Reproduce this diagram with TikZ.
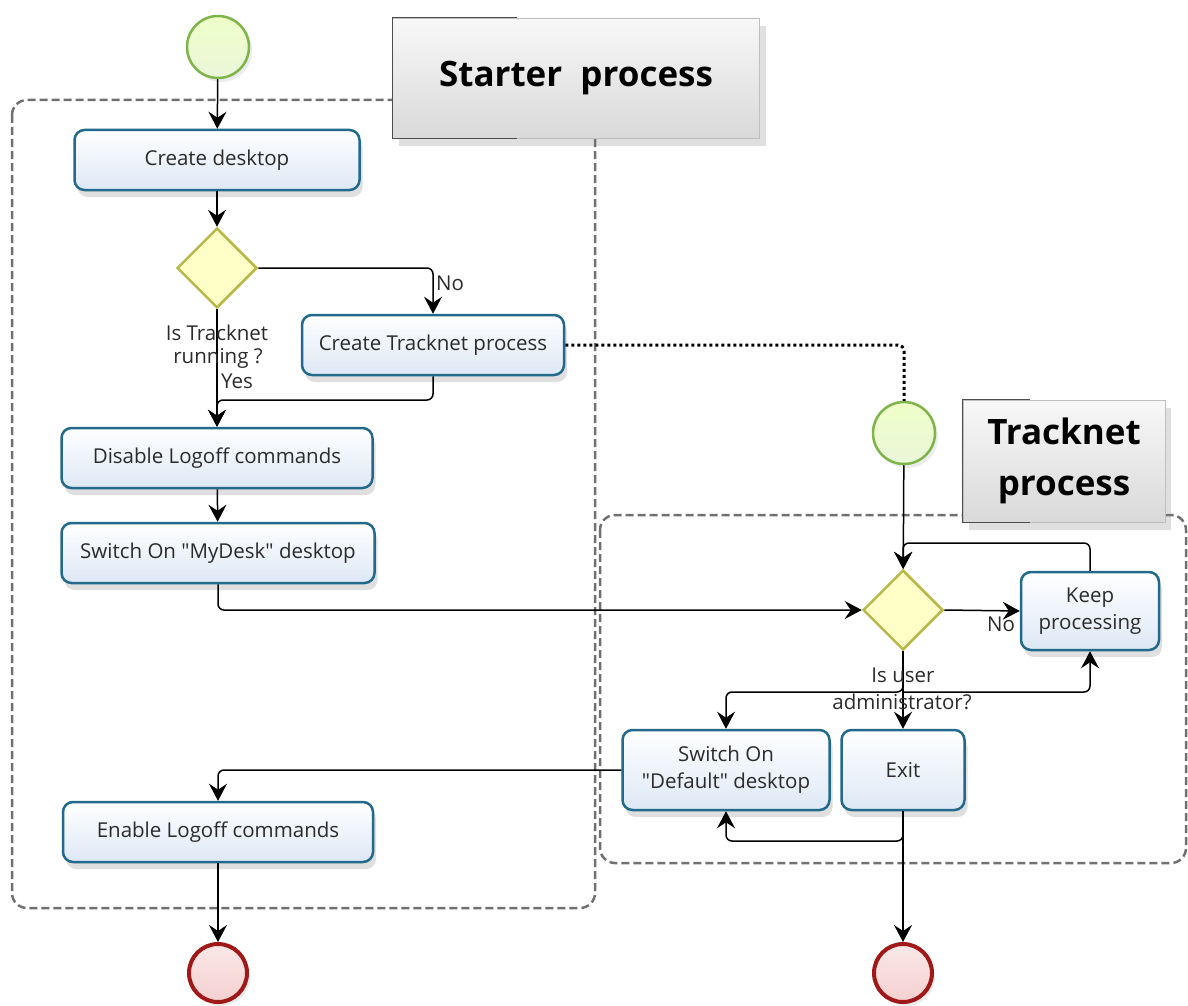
\documentclass[tikz,border=0pt]{standalone}
\usepackage{fontspec}
\setmainfont{Open Sans}
\usetikzlibrary{arrows.meta,shapes.geometric,shadows,calc}
\definecolor{boxborder}{HTML}{23698C}
\definecolor{boxbottom}{HTML}{DDE8F5}
\definecolor{diaborder}{HTML}{B9B94A}
\definecolor{diafill}{HTML}{FFFFC8}
\definecolor{startborder}{HTML}{7DB54A}
\definecolor{startfill}{HTML}{EEFFC8}
\definecolor{endborder}{HTML}{A01818}
\definecolor{endfill}{HTML}{F5D0D0}
\definecolor{groupline}{HTML}{707070}
\definecolor{labtop}{HTML}{F8F8F8}
\definecolor{labbottom}{HTML}{D9D9D9}
\definecolor{txt}{HTML}{2B2B2B}
\tikzset{
  taskbox/.style={draw=boxborder, line width=2.5pt, rounded corners=10pt,
    top color=white, bottom color=boxbottom, align=center, inner sep=0pt,
    text=txt, font=\fontsize{20.5}{27}\selectfont,
    drop shadow={shadow xshift=3pt, shadow yshift=-7pt, opacity=0.25}},
  decision/.style={diamond, draw=diaborder, line width=2.5pt, fill=diafill,
    minimum width=80pt, minimum height=80pt, inner sep=0pt},
  startev/.style={circle, draw=startborder, line width=2.5pt,
    top color=startfill, bottom color=startfill!70!startborder!40,
    minimum size=62pt, inner sep=0pt,
    drop shadow={shadow xshift=3pt, shadow yshift=-4pt, opacity=0.15}},
  endev/.style={circle, draw=endborder, line width=4pt,
    top color=endfill!50, bottom color=endfill,
    minimum size=58pt, inner sep=0pt,
    drop shadow={shadow xshift=3pt, shadow yshift=-4pt, opacity=0.15}},
  group/.style={draw=groupline, line width=2.5pt, dash pattern=on 8pt off 4pt, rounded corners=15pt},
  titlebox/.style={draw=black!25, line width=0.8pt, top color=labtop, bottom color=labbottom,
    inner sep=0pt, align=center, font=\bfseries\fontsize{35}{55}\selectfont, text=black,
    drop shadow={shadow xshift=6pt, shadow yshift=-8pt, opacity=0.25}},
  arr/.style={draw=black, line width=1.5pt, -{Stealth[length=17pt,width=18pt,inset=6pt]}},
  lab/.style={text=txt, font=\fontsize{20.5}{24}\selectfont, inner sep=0pt},
}
\begin{document}
\begin{tikzpicture}[x=1pt,y=-1pt]
\useasboundingbox (0,0) rectangle (1188,1006);
\fill[white] (0,0) rectangle (1188,1006);

% groups
\draw[group] (12,100) rectangle (595,908);
\draw[group] (600,515) rectangle (1186,863);

% title boxes
\node[titlebox, minimum width=367pt, minimum height=120pt] (t1) at (576,78) {Starter\ \ process};
\draw[black!70, line width=1.2pt] ($(t1.north west)+(125,0)$) -- (t1.north west) -- (t1.south west) -- ($(t1.south west)+(125,0)$);
\node[titlebox, minimum width=202pt, minimum height=122pt] (t2) at (1064,461) {Tracknet\\[-4pt]process};
\draw[black!70, line width=1.2pt] ($(t2.north west)+(67,0)$) -- (t2.north west) -- (t2.south west) -- ($(t2.south west)+(67,0)$);

% events
\node[startev] (s1) at (218,47) {};
\node[startev] (s2) at (904,433) {};
\node[endev] (e1) at (218,973) {};
\node[endev] (e2) at (903,973) {};

% tasks
\node[taskbox, minimum width=285pt, minimum height=60pt] (create) at (217,160) {Create desktop};
\node[taskbox, minimum width=262pt, minimum height=60pt] (ctp) at (433,345) {Create Tracknet process};
\node[taskbox, minimum width=311pt, minimum height=60pt] (dis) at (217,458) {Disable Logoff commands};
\node[taskbox, minimum width=313pt, minimum height=60pt] (mydesk) at (218,553) {Switch On \textquotedbl MyDesk\textquotedbl\ desktop};
\node[taskbox, minimum width=310pt, minimum height=60pt] (en) at (218,832) {Enable Logoff commands};
\node[taskbox, minimum width=207pt, minimum height=80pt] (sod) at (726,770) {Switch On\\\textquotedbl Default\textquotedbl\ desktop};
\node[taskbox, minimum width=123pt, minimum height=80pt] (exit) at (903,770) {Exit};
\node[taskbox, minimum width=138pt, minimum height=78pt] (kp) at (1090,611) {Keep\\processing};

% decisions
\node[decision] (d1) at (217,268) {};
\node[decision] (d2) at (903,610) {};

% junction coordinates
\coordinate (j1) at (217,400);
\coordinate (j2) at (903,543);
\coordinate (j3) at (903,692);
\coordinate (j4) at (903,841);

% connectors
\draw[arr] (s1) -- (create);
\draw[arr] (create) -- (d1);
\draw[arr, rounded corners=6pt] (d1.east) -| (ctp.north);
\draw[arr] (d1) -- (dis);
\draw[arr, rounded corners=6pt] (ctp.south) |- (j1) -- (dis.north);
\draw[arr] (dis) -- (mydesk);
\draw[arr, rounded corners=6pt] (mydesk.south) |- (d2.west);
\draw[black, line width=3pt, dash pattern=on 3pt off 3pt, rounded corners=6pt] (ctp.east) -| (s2.north);
\draw[arr] (s2) -- (d2);
\draw[arr] (d2.east) -- (kp.west);
\draw[arr, rounded corners=6pt] (kp.north) |- (j2) -- (d2.north);
\draw[arr] (d2.south) -- (exit.north);
\draw[arr, rounded corners=6pt] (d2.south) -- (j3) -| (sod.north);
\draw[arr, rounded corners=6pt] (j3) -| (kp.south);
\draw[arr, rounded corners=6pt] (exit.south) -- (j4) -| (sod.south);
\draw[arr] (exit.south) -- (e2);
\draw[arr, rounded corners=6pt] (sod.west) -| (en.north);
\draw[arr] (en) -- (e1);

% labels
\node[lab, anchor=west] (no1) at (436,283) {No};
\node[lab] (q1a) at (217,333) {Is Tracknet};
\node[lab] (q1b) at (218,358) {running ?};
\node[lab] (yes1) at (237,381) {Yes};
\node[lab] (no2) at (1001,624) {No};
\node[lab] (q2a) at (903,675) {Is user};
\node[lab] (q2b) at (902,702) {administrator?};
\end{tikzpicture}
\end{document}
